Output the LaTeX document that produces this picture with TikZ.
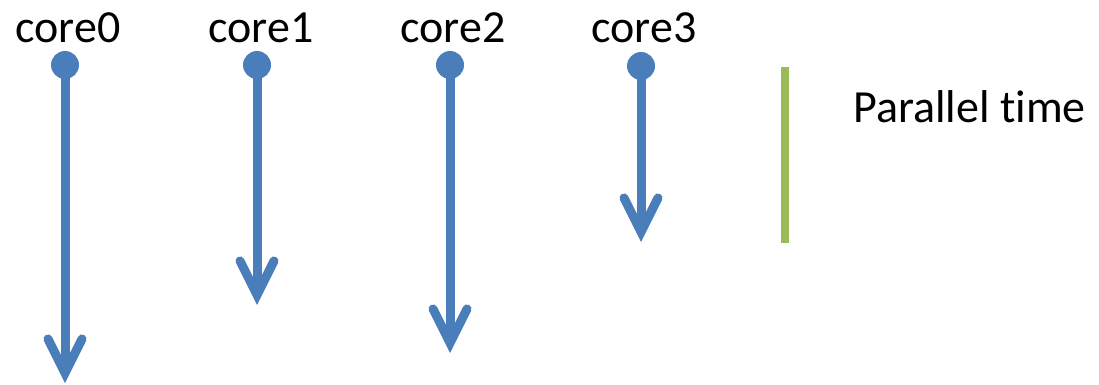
\documentclass[tikz,border=0pt]{standalone}
\usepackage{fontspec}
\setmainfont[Ligatures=NoCommon]{Carlito}
\usetikzlibrary{arrows.meta}
\definecolor{coreblue}{HTML}{4A7EBB}
\definecolor{timegreen}{HTML}{9BBB59}
\tikzset{
  corelabel/.style={font=\fontsize{46}{50}\selectfont, anchor=base, inner sep=0pt},
  coredot/.style={circle, fill=coreblue, minimum size=28pt, inner sep=0pt},
  timeline/.style={draw=coreblue, line width=9pt,
    -{Straight Barb[length=34pt, width=34pt, line cap=round, line join=miter]}},
  spanbar/.style={draw=timegreen, line width=8pt}
}
\begin{document}
\begin{tikzpicture}[x=1pt, y=-1pt]
  \useasboundingbox (0,0) rectangle (1099,385);
  % core labels
  \node[corelabel] (l0) at (68,43) {core0};
  \node[corelabel] (l1) at (261,43) {core1};
  \node[corelabel] (l2) at (453,43) {core2};
  \node[corelabel] (l3) at (644,43) {core3};
  % start dots
  \node[coredot] (d0) at (65,65) {};
  \node[coredot] (d1) at (257,65) {};
  \node[coredot] (d2) at (450,65) {};
  \node[coredot] (d3) at (641,66) {};
  % arrow ends
  \coordinate (e0) at (65,383);
  \coordinate (e1) at (257,305);
  \coordinate (e2) at (450,353);
  \coordinate (e3) at (641,242);
  % time lines
  \draw[timeline] (d0.center) -- (e0);
  \draw[timeline] (d1.center) -- (e1);
  \draw[timeline] (d2.center) -- (e2);
  \draw[timeline] (d3.center) -- (e3);
  % parallel time bar and caption (kern keeps t and i as separate glyphs)
  \coordinate (p0) at (785,67);
  \coordinate (p1) at (785,243);
  \draw[spanbar] (p0) -- (p1);
  \node[corelabel, anchor=base west] (pt) at (853,122) {Parallel t\kern0pt ime};
\end{tikzpicture}
\end{document}
